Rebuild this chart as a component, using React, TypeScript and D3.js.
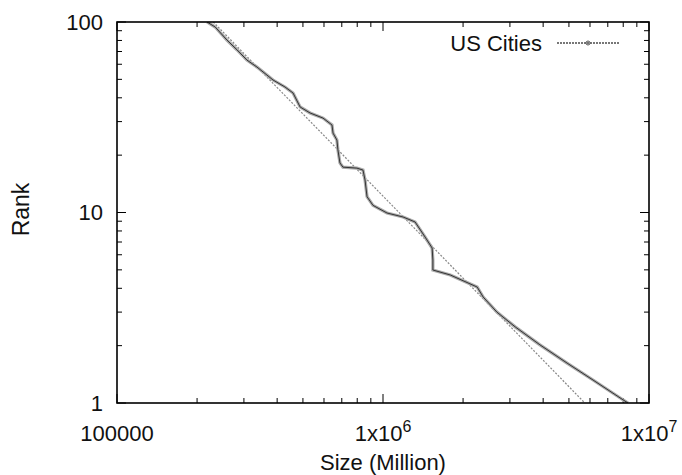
import React from "react";
import * as d3 from "d3";

// city size vs rank (rank 1 = largest)
const sizes = [
  8340000, 7980000, 6160000, 4920000, 3890000, 3140000, 2680000, 2380000,
  2260000, 1790000, 1540000, 1540000, 1530000, 1440000, 1320000, 1190000,
  1035000, 917000, 871000, 856000, 841000, 798000, 707000, 689000, 677000,
  671000, 649000, 643000, 595000, 532000, 488000, 459000, 428000, 386000,
  336000, 308000, 283000, 259000, 234000, 218000,
];
const ranks = [
  1, 1.04, 1.32, 1.62, 2.02, 2.51, 3.0, 3.6, 4.06, 4.7, 4.99, 5.63, 6.51,
  7.43, 8.92, 9.47, 9.94, 10.9, 12.1, 14.8, 16.7, 17.1, 17.3, 18.2, 21.3,
  24.0, 26.1, 28.8, 31.3, 33.3, 35.8, 42.4, 45.6, 49.6, 58.0, 63.1, 71.3,
  80.4, 94.1, 100,
];

// power-law fit
const fitSizes = [230000, 5740000];
const fitRanks = [100, 1];

const xTickValues = [1e5, 1e6, 1e7];
const xTickBases = ["100000", "1x10", "1x10"];
const xTickSups = ["", "6", "7"];
const yTickValues = [1, 10, 100];
const yTickLabels = ["1", "10", "100"];

const seriesName = "US Cities";

const W = 682;
const H = 475;
const left = 117;
const right = 649;
const top = 22;
const bottom = 403;
const font = "'Liberation Sans', Arial, Helvetica, sans-serif";

const App = () => {
  const x = d3.scaleLog().domain([1e5, 1e7]).range([left, right]);
  const y = d3.scaleLog().domain([1, 100]).range([bottom, top]);

  const pts = sizes.map((s, i) => [s, ranks[i]] as [number, number]);
  const fit = fitSizes.map((s, i) => [s, fitRanks[i]] as [number, number]);

  const line = d3
    .line<[number, number]>()
    .x((d) => x(d[0]))
    .y((d) => y(d[1]));

  const isMajor = (v: number) => Math.abs(Math.log10(v) - Math.round(Math.log10(v))) < 1e-9;
  const xt = x.ticks();
  const yt = y.ticks();

  return (
    <svg
      width={W}
      height={H}
      style={{ position: "absolute", left: 0, top: 0, background: "#fff" }}
      fontFamily={font}
    >
      <defs>
        <clipPath id="plot">
          <rect x={left} y={top} width={right - left} height={bottom - top} />
        </clipPath>
      </defs>

      {/* ticks, mirrored on all sides */}
      <g stroke="#000" strokeWidth={1}>
        {xt.map((v, i) => {
          const len = isMajor(v) ? 9 : 5;
          return (
            <g key={"xt" + i}>
              <line x1={x(v)} x2={x(v)} y1={bottom} y2={bottom - len} />
              <line x1={x(v)} x2={x(v)} y1={top} y2={top + len} />
            </g>
          );
        })}
        {yt.map((v, i) => {
          const len = isMajor(v) ? 9 : 5;
          return (
            <g key={"yt" + i}>
              <line x1={left} x2={left + len} y1={y(v)} y2={y(v)} />
              <line x1={right} x2={right - len} y1={y(v)} y2={y(v)} />
            </g>
          );
        })}
      </g>

      <g clipPath="url(#plot)">
        <path
          d={line(fit) || ""}
          fill="none"
          stroke="#888"
          strokeWidth={1.2}
          strokeDasharray="2,1.5"
        />
        <path d={line(pts) || ""} fill="none" stroke="#aaa" strokeWidth={3.2} />
        <path d={line(pts) || ""} fill="none" stroke="#333" strokeWidth={1} />
      </g>

      <rect
        x={left}
        y={top}
        width={right - left}
        height={bottom - top}
        fill="none"
        stroke="#000"
        strokeWidth={1.6}
      />

      {/* tick labels */}
      <g fontSize={22} fill="#111">
        {yTickValues.map((v, i) => (
          <text key={"yl" + i} x={left - 14} y={y(v)} dy="0.35em" textAnchor="end">
            {yTickLabels[i]}
          </text>
        ))}
        {xTickValues.map((v, i) => (
          <text key={"xl" + i} x={x(v)} y={441} textAnchor="middle">
            {xTickBases[i]}
            {xTickSups[i] && (
              <tspan fontSize={16} dy={-9}>
                {xTickSups[i]}
              </tspan>
            )}
          </text>
        ))}
      </g>

      <text
        x={(left + right) / 2}
        y={470}
        textAnchor="middle"
        fontSize={22}
        fill="#111"
      >
        Size (Million)
      </text>
      <text
        transform={`translate(29,${(top + bottom) / 2 - 3}) rotate(-90)`}
        textAnchor="middle"
        fontSize={23}
        fill="#111"
      >
        Rank
      </text>

      {/* legend */}
      <text x={542} y={43} dy="0.35em" textAnchor="end" fontSize={22} fill="#111">
        {seriesName}
      </text>
      <line x1={557} x2={620} y1={43} y2={43} stroke="#777" strokeWidth={2} strokeDasharray="2,1" />
      <circle cx={588} cy={43} r={2} fill="none" stroke="#555" strokeWidth={1} />
    </svg>
  );
};

export default App;
